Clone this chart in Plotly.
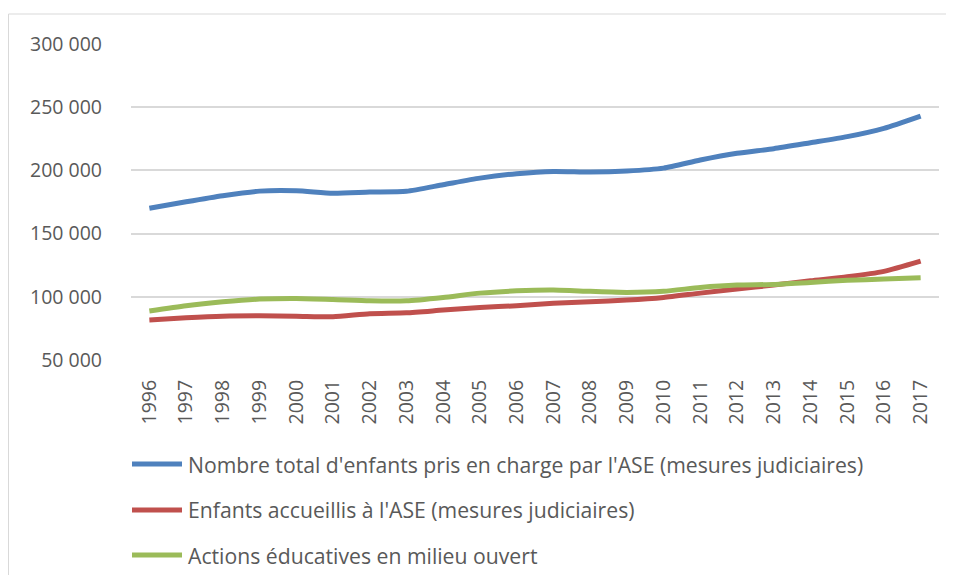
import plotly.graph_objects as go

years = [str(y) for y in range(1996, 2018)]

total_ase = [170000, 175200, 180000, 183600, 183900, 182000, 182900, 183500, 188700, 193900,
             197400, 199200, 198700, 199500, 201800, 208200, 213500, 217200, 221900, 226700,
             233300, 243000]
accueillis = [81600, 83400, 84700, 85000, 84700, 84200, 86600, 87300, 89500, 91600,
              92900, 94800, 96000, 97400, 99500, 102900, 106100, 109300, 112700, 115800,
              120100, 128200]
aemo = [88700, 92900, 96000, 98200, 98700, 97900, 96800, 96800, 99500, 102900,
        104700, 105300, 104300, 103500, 104300, 107400, 109300, 109800, 111400, 113000,
        114000, 115000]

series_names = [
    "Nombre total d'enfants pris en charge par l'ASE (mesures judiciaires)",
    "Enfants accueillis à l'ASE (mesures judiciaires)",
    "Actions éducatives en milieu ouvert",
]
series_values = [total_ase, accueillis, aemo]
colors = ["#4f81bd", "#c0504d", "#9bbb59"]

y_ticks = [50000, 100000, 150000, 200000, 250000, 300000]
y_tick_labels = ["50 000", "100 000", "150 000", "200 000", "250 000", "300 000"]

FONT = "Open Sans"
TXT = "#595959"

# figure geometry (page body has an 8px margin on every side)
W, H = 938, 567
L, R, T, B = 123, 7, 36, 215
PW, PH = W - L - R, H - T - B


def px_x(px):
    return (px - L) / PW


def px_y(py):
    return (H - B - py) / PH


fig = go.Figure()
for i, (name, vals, col) in enumerate(zip(series_names, series_values, colors)):
    fig.add_trace(go.Scatter(
        x=years, y=vals, name=name, mode="lines",
        line=dict(color=col, width=5, shape="spline", smoothing=0.6),
        showlegend=False,
    ))

shapes = [
    dict(type="line", xref="paper", yref="paper",
         x0=px_x(0.5), x1=px_x(W + 30), y0=px_y(6), y1=px_y(6),
         line=dict(color="#d9d9d9", width=1), layer="below"),
    dict(type="line", xref="paper", yref="paper",
         x0=px_x(0.5), x1=px_x(0.5), y0=px_y(6), y1=px_y(H + 30),
         line=dict(color="#d9d9d9", width=1), layer="below"),
]
annotations = []
legend_rows = [456, 502, 547]
for name, col, ry in zip(series_names, colors, legend_rows):
    shapes.append(dict(
        type="line", xref="paper", yref="paper",
        x0=px_x(124), x1=px_x(174), y0=px_y(ry), y1=px_y(ry),
        line=dict(color=col, width=5),
    ))
    annotations.append(dict(
        xref="paper", yref="paper", x=px_x(178), y=px_y(ry),
        xanchor="left", yanchor="middle", showarrow=False, text=name,
        font=dict(family=FONT, size=21.2, color=TXT),
    ))

fig.update_layout(
    width=W, height=H,
    margin=dict(l=L, r=R, t=T, b=B),
    paper_bgcolor="white", plot_bgcolor="white",
    font=dict(family=FONT, color=TXT, size=19),
    showlegend=False,
    xaxis=dict(
        type="category", range=[-0.5, 21.5],
        tickangle=-90, showgrid=False, showline=False, zeroline=False,
        ticks="", tickfont=dict(family=FONT, size=19.5, color=TXT),
        ticklabelstandoff=15,
    ),
    yaxis=dict(
        range=[50000, 300000], tickvals=y_ticks, ticktext=y_tick_labels,
        showgrid=True, gridcolor="#d9d9d9", gridwidth=1.5,
        showline=False, zeroline=False, ticks="",
        tickfont=dict(family=FONT, size=19.5, color=TXT),
        ticklabelstandoff=28,
    ),
    shapes=shapes,
    annotations=annotations,
)

fig.write_html("out.html")
